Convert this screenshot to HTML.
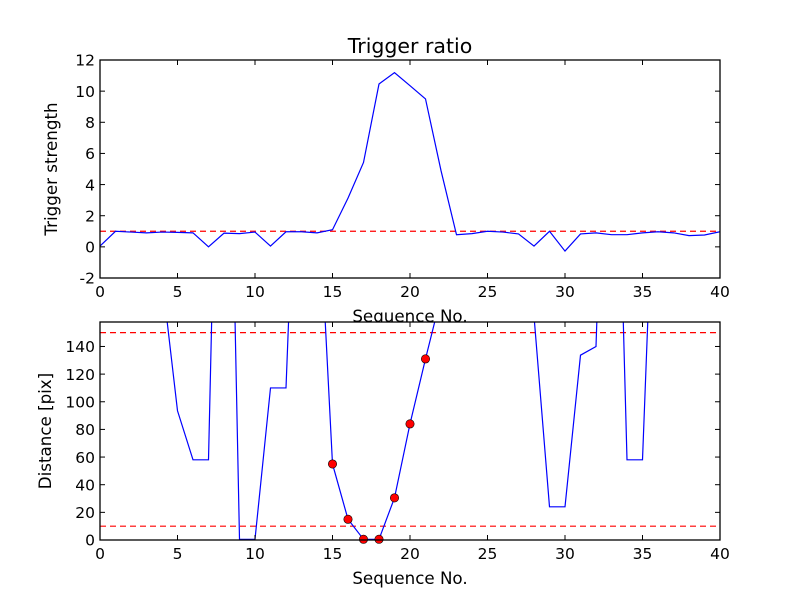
<!DOCTYPE html>
<html><head><meta charset="utf-8"><style>
html,body{margin:0;padding:0;background:#fff;}
svg{display:block;font-family:"DejaVu Sans","Liberation Sans",sans-serif;}
</style></head><body>
<svg id="fig" width="800" height="600" viewBox="0 0 800 600"></svg>
<script>
const xs = Array.from({length:41},(_,i)=>i);
const strength = [0.05,1.0,0.95,0.9,0.95,0.93,0.9,0.0,0.88,0.85,0.95,0.05,0.97,0.97,0.9,1.1,3.13,5.42,10.46,11.19,10.35,9.5,4.9,0.78,0.85,1.0,0.95,0.83,0.05,1.0,-0.27,0.83,0.9,0.78,0.78,0.9,0.97,0.9,0.72,0.76,0.97];
const distance = [500,500,500,500,190,93.5,58,58,550,0.5,0.5,110,110,400,274,55,15,0.5,0.5,30.5,84,131,176,500,500,500,500,500,162,24,24,133.7,140,475,58,58,352,500,500,500,500];
const markedX = [15,16,17,18,19,20,21];
const strengthThreshold = 1;
const distThresholds = [10,150];
const xTicks = [0,5,10,15,20,25,30,35,40];
const yTicksTop = [-2,0,2,4,6,8,10,12];
const yTicksBot = [0,20,40,60,80,100,120,140];

const NS='http://www.w3.org/2000/svg';
const svg=document.getElementById('fig');
function mk(tag,attrs,parent){const e=document.createElementNS(NS,tag);for(const k in attrs)e.setAttribute(k,attrs[k]);(parent||svg).appendChild(e);return e;}

function panel(cfg){
  const {L,R,T,B,ymin,ymax,yTicks,name}=cfg;
  const sx=v=>L+(v-0)/(40-0)*(R-L);
  const sy=v=>B-(v-ymin)/(ymax-ymin)*(B-T);
  const g=mk('g',{});
  
  
  const bg=mk('rect',{x:L,y:T,width:R-L,height:B-T,fill:'#fff'},g);
  
  
  const cid=name+'-clip';
  const cp=mk('clipPath',{id:cid},g);
  mk('rect',{x:L,y:T,width:R-L,height:B-T},cp);
  const plot=mk('g',{'clip-path':'url(#'+cid+')'},g);
  return {g,plot,sx,sy,L,R,T,B,yTicks,name};
}
function finish(p,xlabel,ylabel,ylx){
  const {g,sx,sy,L,R,T,B,yTicks,name}=p;
  const frame=mk('rect',{x:L,y:T,width:R-L,height:B-T,fill:'none',stroke:'#000','stroke-width':1.3},g);
  
  
  xTicks.forEach(t=>{
    const x=sx(t);
    mk('line',{x1:x,x2:x,y1:B,y2:B-5,stroke:'#000'},g);
    mk('line',{x1:x,x2:x,y1:T,y2:T+5,stroke:'#000'},g);
    const tx=mk('text',{x:x,y:B+19,'font-size':15.5,'text-anchor':'middle'},g);
    tx.textContent=t;
    
    
  });
  yTicks.forEach(t=>{
    const y=sy(t);
    mk('line',{x1:L,x2:L+5,y1:y,y2:y,stroke:'#000'},g);
    mk('line',{x1:R,x2:R-5,y1:y,y2:y,stroke:'#000'},g);
    const ty=mk('text',{x:L-5,y:y+5.7,'font-size':15.5,'text-anchor':'end'},g);
    ty.textContent=t;
    
    
  });
  const xl=mk('text',{x:(L+R)/2,y:B+44,'font-size':16.7,'text-anchor':'middle'},g);
  xl.textContent=xlabel;
  
  
  const yl=mk('text',{x:0,y:0,'font-size':16.7,'text-anchor':'middle',transform:'translate('+ylx+','+((T+B)/2)+') rotate(-90)'},g);
  yl.textContent=ylabel;
  
  
}

// Top
const topAx=panel({L:100,R:720,T:60,B:278,ymin:-2,ymax:12,yTicks:yTicksTop,name:'top-axes'});
const th=mk('line',{x1:topAx.L,x2:topAx.R,y1:topAx.sy(strengthThreshold),y2:topAx.sy(strengthThreshold),stroke:'#f00','stroke-width':1.2,'stroke-dasharray':'6,4'},topAx.plot);


const l1=mk('polyline',{points:xs.map((x,i)=>topAx.sx(x)+','+topAx.sy(strength[i])).join(' '),fill:'none',stroke:'#00f','stroke-width':1.2},topAx.plot);


finish(topAx,'Sequence No.','Trigger strength',57);
const title=mk('text',{x:410,y:53,'font-size':20.5,'text-anchor':'middle'});
title.textContent='Trigger ratio';



// Bottom
const botAx=panel({L:100,R:720,T:322,B:540,ymin:0,ymax:157.7,yTicks:yTicksBot,name:'bottom-axes'});
distThresholds.forEach(v=>{
  const d=mk('line',{x1:botAx.L,x2:botAx.R,y1:botAx.sy(v),y2:botAx.sy(v),stroke:'#f00','stroke-width':1.2,'stroke-dasharray':'6,4'},botAx.plot);
  
  
});
const l2=mk('polyline',{points:xs.map((x,i)=>botAx.sx(x)+','+botAx.sy(distance[i])).join(' '),fill:'none',stroke:'#00f','stroke-width':1.2},botAx.plot);


markedX.forEach(x=>{
  const c=mk('circle',{cx:botAx.sx(x),cy:botAx.sy(distance[x]),r:4.2,fill:'#f00',stroke:'#000','stroke-width':0.6},botAx.g);
  
  
});
finish(botAx,'Sequence No.','Distance [pix]',51);
</script>
</body></html>
